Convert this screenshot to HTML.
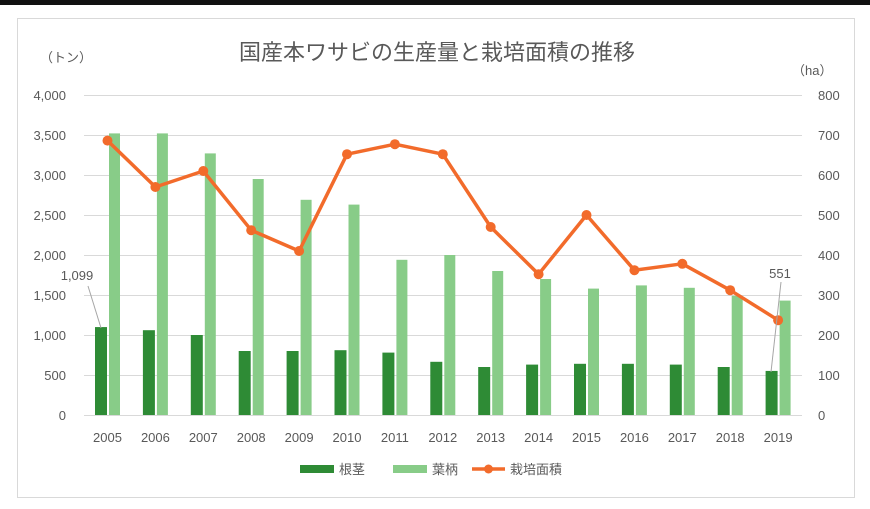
<!DOCTYPE html>
<html><head><meta charset="utf-8"><style>
body{margin:0;background:#fff;width:870px;height:504px;overflow:hidden}
text{font-family:"Liberation Sans","Noto Sans CJK JP",sans-serif;fill:#595959}
</style></head><body>
<svg width="870" height="504" viewBox="0 0 870 504">
<rect x="0" y="0" width="870" height="5" fill="#111"/>
<rect x="17.5" y="18.5" width="837" height="479" fill="#fff" stroke="#d9d9d9"/>
<text x="437" y="60" font-size="22" text-anchor="middle">国産本ワサビの生産量と栽培面積の推移</text>
<text x="40" y="62" font-size="13">（トン）</text>
<text x="792" y="75" font-size="13">（ha）</text>
<g stroke="#d9d9d9" stroke-width="1">
<line x1="84" x2="802" y1="95.5" y2="95.5"/><line x1="84" x2="802" y1="135.5" y2="135.5"/>
<line x1="84" x2="802" y1="175.5" y2="175.5"/><line x1="84" x2="802" y1="215.5" y2="215.5"/>
<line x1="84" x2="802" y1="255.5" y2="255.5"/><line x1="84" x2="802" y1="295.5" y2="295.5"/>
<line x1="84" x2="802" y1="335.5" y2="335.5"/><line x1="84" x2="802" y1="375.5" y2="375.5"/>
<line x1="84" x2="802" y1="415.5" y2="415.5"/>
</g>
<g font-size="13" text-anchor="end" id="la"></g>
<g font-size="13" id="ra"></g>
<g id="bars"></g>
<g font-size="13" text-anchor="middle" id="xl"></g>
<polyline id="ln" fill="none" stroke="#f26b2b" stroke-width="3.5" stroke-linejoin="round"/>
<g id="pts" fill="#f26b2b"></g>
<line x1="88" y1="286" x2="101" y2="328" stroke="#a6a6a6"/>
<text x="77" y="280" font-size="13" text-anchor="middle">1,099</text>
<line x1="781" y1="282" x2="771" y2="372" stroke="#a6a6a6"/>
<text x="780" y="278" font-size="13" text-anchor="middle">551</text>
<rect x="300" y="465" width="34" height="8" fill="#2e8b35"/>
<text x="339" y="474" font-size="13">根茎</text>
<rect x="393" y="465" width="34" height="8" fill="#88cc88"/>
<text x="432" y="474" font-size="13">葉柄</text>
<line x1="472" y1="469" x2="505" y2="469" stroke="#f26b2b" stroke-width="3.5"/>
<circle cx="488.5" cy="469" r="4.5" fill="#f26b2b"/>
<text x="510" y="474" font-size="13">栽培面積</text>
</svg>
<script>
var ns="http://www.w3.org/2000/svg";
function el(p,t,a,tx){var e=document.createElementNS(ns,t);for(var k in a)e.setAttribute(k,a[k]);if(tx!=null)e.textContent=tx;document.getElementById(p).appendChild(e);}
var L=["4,000","3,500","3,000","2,500","2,000","1,500","1,000","500","0"];
for(var i=0;i<9;i++){el("la","text",{x:66,y:100+40*i},L[i]);el("ra","text",{x:818,y:100+40*i},String(800-100*i));}
var root=[1099,1060,1000,800,800,810,780,665,600,630,640,640,630,600,551];
var leaf=[3520,3520,3270,2950,2690,2630,1940,2000,1800,1700,1580,1620,1590,1490,1430];
var ha=[686,570,610,462,410,652,677,652,470,352,500,362,378,312,237];
var pts=[];
for(var i=0;i<15;i++){var c=107.5+47.9*i;
var h1=root[i]*0.08,h2=leaf[i]*0.08;
el("bars","rect",{x:c-12.5,y:415-h1,width:12,height:h1,fill:"#2e8b35"});
el("bars","rect",{x:c+1.5,y:415-h2,width:11,height:h2,fill:"#88cc88"});
el("xl","text",{x:c,y:442},String(2005+i));
var y=415-ha[i]*0.4;pts.push(c+","+y);el("pts","circle",{cx:c,cy:y,r:5});}
document.getElementById("ln").setAttribute("points",pts.join(" "));
</script>
</body></html>
